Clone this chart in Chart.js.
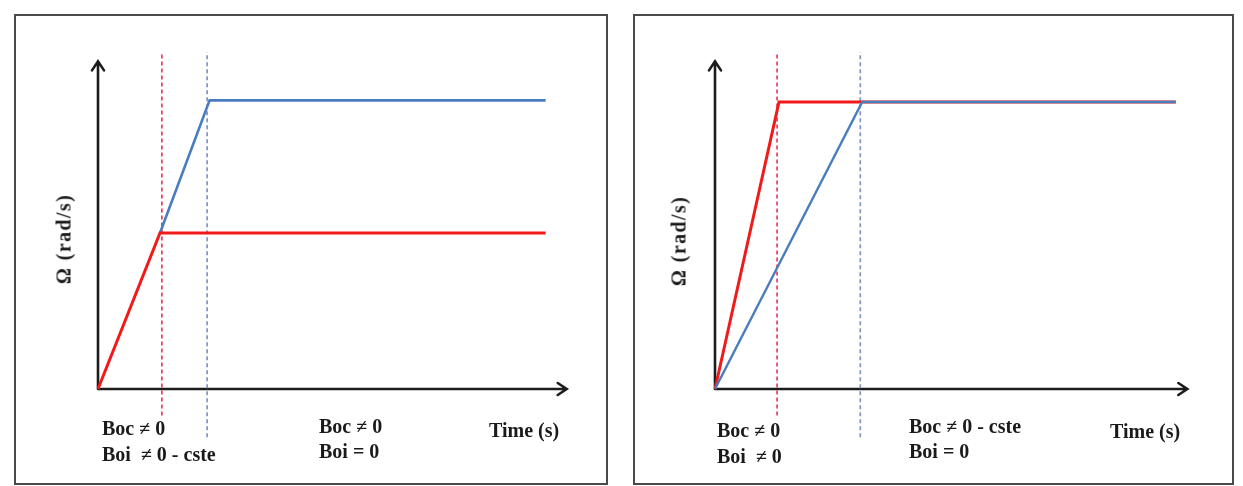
<!DOCTYPE html>
<html>
<head>
<meta charset="utf-8">
<script src="https://cdn.jsdelivr.net/npm/chart.js@4.4.1/dist/chart.umd.min.js"></script>
<style>
  body { margin: 0; background: #fff; width: 1243px; height: 486px; position: relative; overflow: hidden;
         font-family: "Liberation Serif", "Times New Roman", serif; }
  .box { position: absolute; top: 14px; height: 471px; box-sizing: border-box; border: 2px solid #4a4a4a; }
  .cv { position: absolute; top: 14px; height: 470px; }
  .lbl { position: absolute; font-weight: bold; font-size: 20px; line-height: 20px; white-space: pre; color: #1a1a1a; }
  .ylab { position: absolute; font-weight: bold; font-size: 20px; letter-spacing: 1.4px; white-space: pre; color: #1a1a1a;
          transform: translate(-50%, -50%) rotate(-90deg); }
</style>
</head>
<body>
<div class="box" style="left:14px;width:594px"></div>
<div class="box" style="left:633px;width:601px"></div>
<div class="cv" style="left:14px;width:592px"><canvas id="leftChart"></canvas></div>
<div class="cv" style="left:633px;width:600px"><canvas id="rightChart"></canvas></div>

<div class="ylab" style="left:64px;top:239px">Ω (rad/s)</div>
<div class="lbl" style="left:102px;top:418px">Boc ≠ 0</div>
<div class="lbl" style="left:102px;top:444px">Boi  ≠ 0 - cste</div>
<div class="lbl" style="left:319px;top:416px">Boc ≠ 0</div>
<div class="lbl" style="left:319px;top:441px">Boi = 0</div>
<div class="lbl" style="left:489px;top:420px">Time (s)</div>

<div class="ylab" style="left:679px;top:241px">Ω (rad/s)</div>
<div class="lbl" style="left:717px;top:420px">Boc ≠ 0</div>
<div class="lbl" style="left:717px;top:446px">Boi  ≠ 0</div>
<div class="lbl" style="left:909px;top:416px">Boc ≠ 0 - cste</div>
<div class="lbl" style="left:909px;top:441px">Boi = 0</div>
<div class="lbl" style="left:1110px;top:421px">Time (s)</div>

<script>
// left panel: red speed rises then stays; blue keeps rising to a higher level
const leftRedTime = [0, 1, 7.22];
const leftRedSpeed = [0, 1, 1];
const leftBlueTime = [1, 1.8, 7.22];
const leftBlueSpeed = [1, 1.85, 1.85];
const leftMarkTimes = [1.03, 1.76];      // dashed switching instants (red, blue)

// right panel: both reach the same speed, red faster than blue
const rightRedTime = [0, 1, 7.2];
const rightRedSpeed = [0, 1.84, 1.84];
const rightBlueTime = [0, 2.3, 7.2];
const rightBlueSpeed = [0, 1.84, 1.84];
const rightMarkTimes = [0.97, 2.27];

const markTop = 2.16;
const markBottoms = [-0.17, -0.31];
const axisTop = 2.1;
const leftAxisEnd = 7.56;
const rightAxisEnd = 7.38;

const RED = '#f01a1a';
const BLUE = '#4a7dbd';
const RED_DASH = '#ef3a62';
const BLUE_DASH = '#8095c6';

function pts(xs, ys) {
  return xs.map((x, i) => ({ x: x, y: ys[i] }));
}

function markLine(t, bottom, color) {
  return {
    data: [{ x: t, y: bottom }, { x: t, y: markTop }],
    borderColor: color,
    borderWidth: 1.7,
    borderDash: [4, 3],
    pointRadius: 0,
    order: 2
  };
}

const axesPlugin = {
  id: 'arrowAxes',
  beforeDatasetsDraw(chart, args, opts) {
    const { ctx, scales: { x, y } } = chart;
    const x0 = x.getPixelForValue(0), y0 = y.getPixelForValue(0);
    const xe = x.getPixelForValue(opts.xEnd), yt = y.getPixelForValue(axisTop);
    ctx.save();
    ctx.strokeStyle = '#1c1c1c';
    ctx.lineWidth = 2.6;
    ctx.lineCap = 'round';
    ctx.beginPath();
    ctx.moveTo(x0, y0); ctx.lineTo(xe, y0);
    ctx.moveTo(x0, y0); ctx.lineTo(x0, yt);
    // arrow heads
    ctx.moveTo(xe - 9, y0 - 6); ctx.lineTo(xe, y0); ctx.lineTo(xe - 9, y0 + 6);
    ctx.moveTo(x0 - 6, yt + 9); ctx.lineTo(x0, yt); ctx.lineTo(x0 + 6, yt + 9);
    ctx.stroke();
    ctx.restore();
  }
};

function makeChart(id, datasets, xMin, xMax, pad, xEnd) {
  new Chart(document.getElementById(id), {
    type: 'line',
    data: { datasets: datasets },
    options: {
      responsive: true,
      maintainAspectRatio: false,
      animation: false,
      clip: false,
      layout: { padding: pad },
      plugins: { legend: { display: false }, tooltip: { enabled: false }, arrowAxes: { xEnd: xEnd } },
      scales: {
        x: { type: 'linear', min: xMin, max: xMax, display: false },
        y: { type: 'linear', min: -0.5, max: 2.3, display: false }
      }
    },
    plugins: [axesPlugin]
  });
}

makeChart('leftChart', [
  { data: pts(leftBlueTime, leftBlueSpeed), borderColor: BLUE, borderWidth: 2.6, pointRadius: 0, order: 1 },
  { data: pts(leftRedTime, leftRedSpeed), borderColor: RED, borderWidth: 3, pointRadius: 0, order: 0 },
  markLine(leftMarkTimes[0], markBottoms[0], RED_DASH),
  markLine(leftMarkTimes[1], markBottoms[1], BLUE_DASH)
], -0.5, 8, { left: 53, right: 12, top: 16.2, bottom: 17 }, leftAxisEnd);

makeChart('rightChart', [
  { data: pts(rightRedTime, rightRedSpeed), borderColor: RED, borderWidth: 3, pointRadius: 0, order: 1 },
  { data: pts(rightBlueTime, rightBlueSpeed), borderColor: BLUE, borderWidth: 2.4, pointRadius: 0, order: 0 },
  markLine(rightMarkTimes[0], markBottoms[0], RED_DASH),
  markLine(rightMarkTimes[1], markBottoms[1], BLUE_DASH)
], -0.5, 7.8, { left: 50, right: 18.8, top: 16.2, bottom: 17 }, rightAxisEnd);
</script>
</body>
</html>
